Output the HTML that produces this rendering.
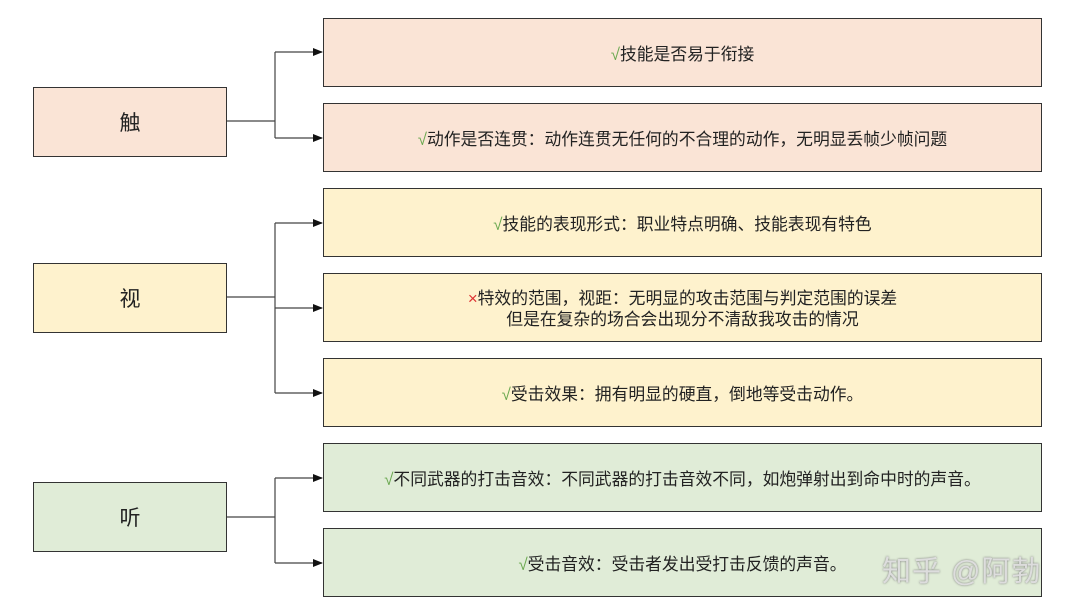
<!DOCTYPE html>
<html><head><meta charset="utf-8"><style>
body{margin:0;width:1080px;height:610px;background:#fff;overflow:hidden;position:relative;font-family:"Liberation Sans","Noto Sans CJK SC",sans-serif;color:#222}
.b{position:absolute;box-sizing:border-box;border:1.5px solid #333;display:flex;align-items:center;justify-content:center;text-align:center;font-size:16.8px;line-height:21px;padding-top:3px}
.l{left:33px;width:194px;height:70px;font-size:21px}
.r{left:323px;width:719px;height:69px}
.p{background:#fae4d6}.y{background:#fef2cd}.g{background:#e0ecd7}
.ok{color:#6aa84f}.no{color:#d33}
svg{position:absolute;left:0;top:0}
.wm{position:absolute;left:882px;top:548px;font-size:29px;color:#ddd;text-shadow:0 0 2px #777;letter-spacing:1px;font-family:"Liberation Sans","Noto Sans CJK SC",sans-serif}
</style></head><body>
<svg width="1080" height="610">
<defs><marker id="a" markerWidth="10" markerHeight="8" refX="9" refY="4" orient="auto" markerUnits="userSpaceOnUse"><path d="M0,0L10,4L0,8z" fill="#111"/></marker></defs>
<g stroke="#444" stroke-width="1.2" fill="none">
<path d="M227,121H275"/><path d="M275,52V138"/>
<path d="M275,52H322" marker-end="url(#a)"/><path d="M275,138H322" marker-end="url(#a)"/>
<path d="M227,297H275"/><path d="M275,223V393"/>
<path d="M275,223H322" marker-end="url(#a)"/><path d="M275,308H322" marker-end="url(#a)"/><path d="M275,393H322" marker-end="url(#a)"/>
<path d="M227,517H275"/><path d="M275,478V563"/>
<path d="M275,478H322" marker-end="url(#a)"/><path d="M275,563H322" marker-end="url(#a)"/>
</g></svg>
<div class="b l p" style="top:87px">触</div>
<div class="b l y" style="top:263px">视</div>
<div class="b l g" style="top:482px">听</div>
<div class="b r p" style="top:18px"><span><span class="ok">√</span>技能是否易于衔接</span></div>
<div class="b r p" style="top:103px"><span><span class="ok">√</span>动作是否连贯：动作连贯无任何的不合理的动作，无明显丢帧少帧问题</span></div>
<div class="b r y" style="top:188px"><span><span class="ok">√</span>技能的表现形式：职业特点明确、技能表现有特色</span></div>
<div class="b r y" style="top:273px"><span><span class="no">×</span>特效的范围，视距：无明显的攻击范围与判定范围的误差<br>但是在复杂的场合会出现分不清敌我攻击的情况</span></div>
<div class="b r y" style="top:358px"><span><span class="ok">√</span>受击效果：拥有明显的硬直，倒地等受击动作。</span></div>
<div class="b r g" style="top:443px"><span><span class="ok">√</span>不同武器的打击音效：不同武器的打击音效不同，如炮弹射出到命中时的声音。</span></div>
<div class="b r g" style="top:528px"><span><span class="ok">√</span>受击音效：受击者发出受打击反馈的声音。</span></div>
<div class="wm">知乎 @阿勃</div>
</body></html>
